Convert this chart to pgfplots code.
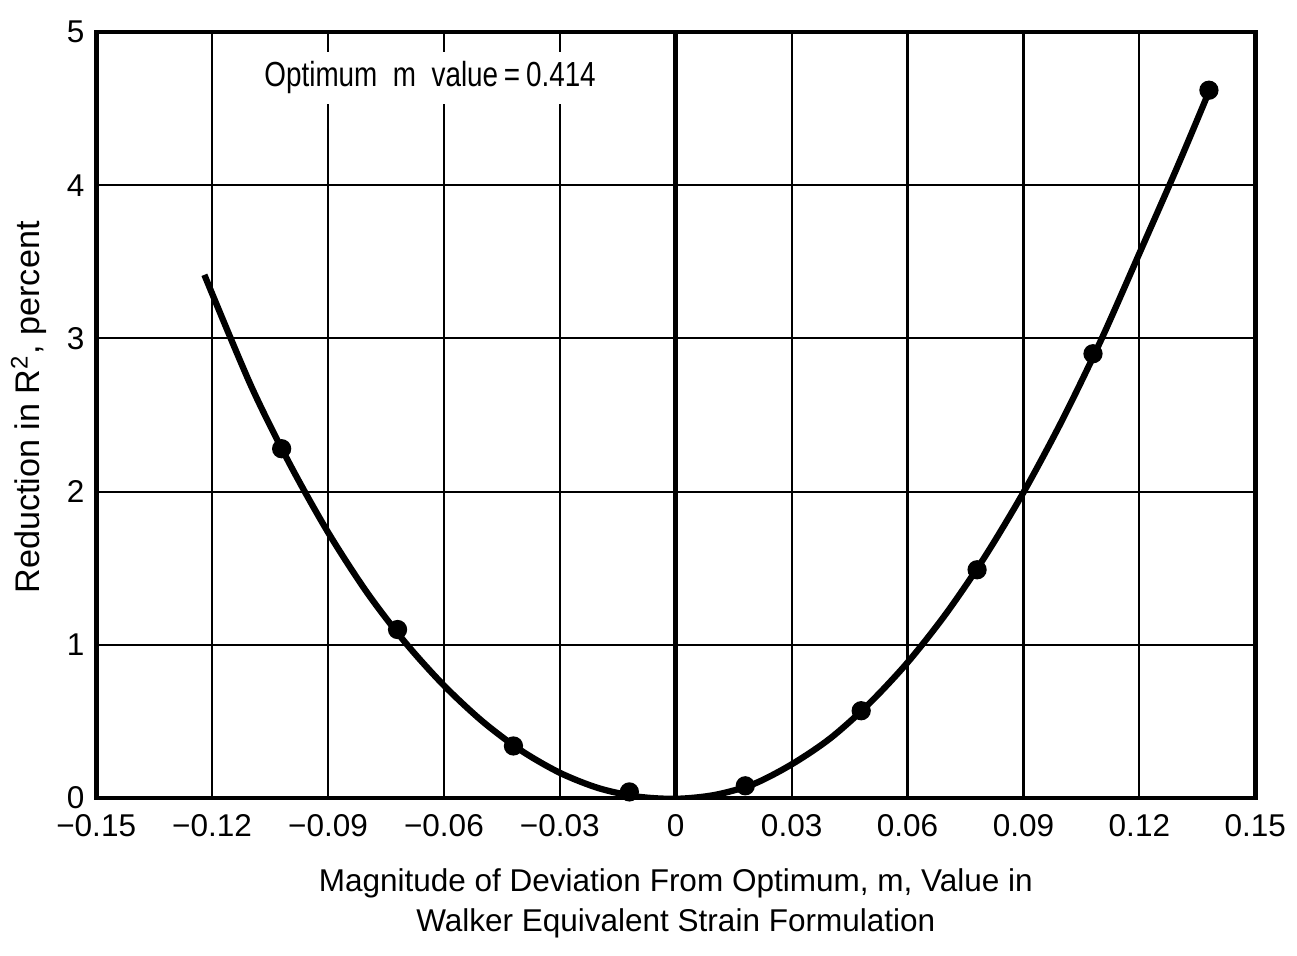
\documentclass[border=0pt]{standalone}
\usepackage{fontspec}
\setmainfont{Liberation Sans}
\newfontfamily\narrowfont[FakeStretch=0.8]{Liberation Sans}
\usepackage{pgfplots}
\pgfplotsset{compat=1.18}
\begin{document}
\begin{tikzpicture}
\begin{axis}[
  scale only axis, width=349.5pt, height=231pt,
  xmin=-0.15, xmax=0.15, ymin=0, ymax=5,
  xtick={-0.15,-0.12,-0.09,-0.06,-0.03,0,0.03,0.06,0.09,0.12,0.15},
  xticklabels={−0.15,−0.12,−0.09,−0.06,−0.03,0,0.03,0.06,0.09,0.12,0.15},
  ytick={0,1,2,3,4,5}, yticklabels={0,1,2,3,4,5},
  grid=major, grid style={black, line width=0.65pt},
  major tick length=0pt,
  axis line style={line width=1.4pt},
  tick label style={font=\fontsize{9.5}{11}\selectfont},
  xticklabel style={yshift=-1.5pt},
  label style={font=\fontsize{9.5}{12}\selectfont},
  xlabel={Magnitude of Deviation From Optimum, m, Value in\\Walker Equivalent Strain Formulation},
  xlabel style={align=center, at={(axis description cs:0.5,-0.077)}, anchor=north},
  ylabel={Reduction in R\textsuperscript{2}, percent},
  ylabel style={at={(axis description cs:-0.058,0.51)}, anchor=center, font=\fontsize{10.3}{12}\selectfont},
  extra x ticks={0}, extra x tick labels={},
  extra x tick style={grid style={black, line width=1.5pt}},
]
\addplot[smooth, line width=1.9pt, black] coordinates {
(-0.122,3.415) (-0.11,2.695) (-0.10,2.185) (-0.09,1.735) (-0.08,1.345) (-0.07,1.015)
(-0.06,0.735) (-0.05,0.50) (-0.04,0.31) (-0.03,0.165) (-0.02,0.065) (-0.01,0.01)
(0,-0.005) (0.01,0.02) (0.02,0.09) (0.03,0.22) (0.04,0.39) (0.05,0.615)
(0.06,0.885) (0.07,1.205) (0.08,1.575) (0.09,1.995) (0.10,2.465) (0.11,2.985)
(0.12,3.555) (0.13,4.13) (0.138,4.61)
};
\addplot[only marks, mark=*, mark size=2.7pt, black] coordinates {
(-0.102,2.28) (-0.072,1.10) (-0.042,0.34) (-0.012,0.04) (0.018,0.08)
(0.048,0.57) (0.078,1.49) (0.108,2.90) (0.138,4.62)
};
\node[anchor=west, inner sep=3pt, fill=white, font=\narrowfont\fontsize{10.5}{12}\selectfont]
  at (axis cs:-0.1092,4.70) {Optimum\ \ m\ \ value\,=\,0.414};
\end{axis}
\path (current bounding box.north) ++(0,3pt) (current bounding box.south) ++(0,-2pt);
\end{tikzpicture}
\end{document}
